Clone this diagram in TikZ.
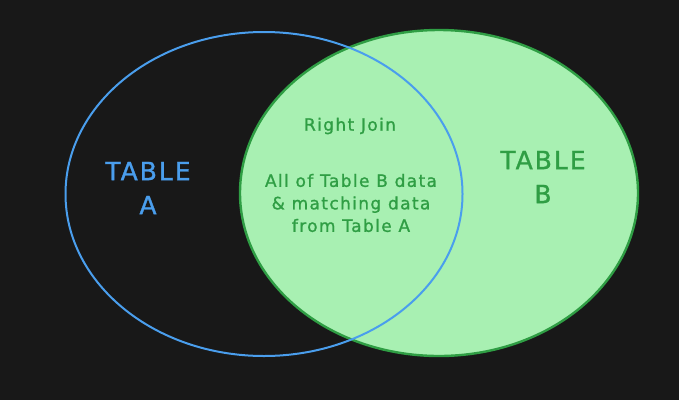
\documentclass[tikz,border=0pt]{standalone}
\usepackage{fontspec}
\setmainfont{DejaVu Sans}
\newfontfamily\handfont{DejaVu Sans}[LetterSpace=8, FakeBold=1.2]
\usetikzlibrary{shapes.geometric}
\definecolor{bgc}{HTML}{181818}
\definecolor{bluec}{HTML}{4A9EED}
\definecolor{greenfill}{HTML}{A8F0B2}
\definecolor{greenc}{HTML}{2F9E44}
\tikzset{
  bigtxt/.style={font=\handfont\fontsize{25}{34}\selectfont, align=center},
  smalltxt/.style={font=\handfont\fontsize{17}{22.5}\selectfont, align=center, text=greenc}
}
\begin{document}
\begin{tikzpicture}[x=1pt,y=-1pt]
\fill[bgc] (0,0) rectangle (679,400);
\useasboundingbox (0,0) rectangle (679,400);
\node[ellipse, inner sep=0pt, minimum width=398pt, minimum height=326pt, fill=greenfill, draw=greenc, line width=2.4pt] (setB) at (439,193) {};
\node[ellipse, inner sep=0pt, minimum width=397pt, minimum height=324pt, draw=bluec, line width=2pt] (setA) at (264,194) {};
\node[bigtxt, text=bluec] (labA) at (148,188) {TABLE\\A};
\node[bigtxt, text=greenc] (labB) at (543,177) {TABLE\\B};
\node[smalltxt] (join) at (350,126) {Right Join};
\node[smalltxt] (desc) at (351,203) {All of Table B data\\\& matching data\\from Table A};
\end{tikzpicture}
\end{document}
